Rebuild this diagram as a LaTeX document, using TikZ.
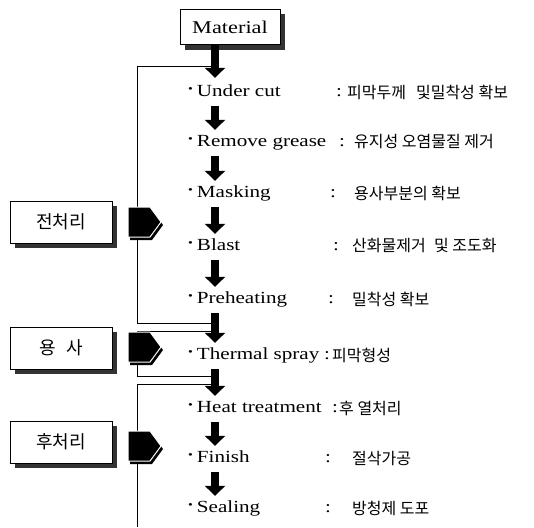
\documentclass[tikz,border=0pt]{standalone}
\usepackage{fontspec}
\setmainfont[FakeStretch=1.24]{Liberation Serif}
\newfontfamily\kr{Noto Sans CJK KR}
\usetikzlibrary{arrows.meta,shadows}
\begin{document}
\begin{tikzpicture}[x=1pt,y=-1pt,
  item/.style={anchor=west, inner sep=0pt, font=\fontsize{17}{20}\selectfont, text height=12pt, text depth=4pt},
  colon/.style={anchor=west, inner sep=0pt, font=\fontsize{17}{20}\selectfont, text height=12pt, text depth=4pt},
  desc/.style={anchor=west, inner sep=0pt, font=\kr\fontsize{16}{19}\selectfont},
  flow/.style={line width=8.5pt, -{Triangle[width=20pt,length=10pt]}},
  bracket/.style={line width=0.8pt},
  boxshadow/.style={drop shadow={shadow xshift=5pt, shadow yshift=-5pt, opacity=1, fill=black!80}},
  stage/.style={draw, line width=0.9pt, fill=white, minimum width=102pt, minimum height=42pt, font=\kr\fontsize{18}{21}\selectfont, boxshadow},
  stagemark/.pic={
    \fill[black] (-14,-12) -- (8,-12) -- (19,3) -- (8,18) -- (-14,18) -- cycle;
    \filldraw[fill=black, draw=white, line width=1pt] (-16,-15) -- (6,-15) -- (17,0) -- (6,15) -- (-16,15) -- cycle;
  }
]
\useasboundingbox (0,0) rectangle (534,527);

% Material
\node[draw, line width=0.9pt, fill=white, minimum width=100pt, minimum height=35pt, font=\fontsize{18}{21}\selectfont, boxshadow] (mat) at (230,27) {Material};

% stage boxes
\node[stage] (pre) at (61,222) {전처리};
\node[stage] (spr) at (61,348) {용\hspace{0.6em}사};
\node[stage] (post) at (61,442) {후처리};

% items
\newcommand\bul{\raisebox{4pt}{\fontsize{11}{11}\selectfont\textbullet}\hspace{4pt}}
\node[item] (i1) at (188,92) {\bul Under cut};
\node[item] (i2) at (188,142) {\bul Remove grease};
\node[item] (i3) at (188,193) {\bul Masking};
\node[item] (i4) at (188,246) {\bul Blast};
\node[item] (i5) at (188,299) {\bul Preheating};
\node[item] (i6) at (188,355) {\bul Thermal spray};
\node[item] (i7) at (188,408) {\bul Heat treatment};
\node[item] (i8) at (188,458) {\bul Finish};
\node[item] (i9) at (188,508) {\bul Sealing};

% colons
\node[colon] (c1) at (336,92) {:};
\node[colon] (c2) at (339,142) {:};
\node[colon] (c3) at (330,193) {:};
\node[colon] (c4) at (333,246) {:};
\node[colon] (c5) at (328,299) {:};
\node[colon] (c6) at (324,355) {:};
\node[colon] (c7) at (332,408) {:};
\node[colon] (c8) at (325,458) {:};
\node[colon] (c9) at (325,508) {:};

% descriptions
\node[desc] (d1) at (347,92) {피막두께\hspace{0.4em} 및밀착성 확보};
\node[desc] (d2) at (354,142) {유지성 오염물질 제거};
\node[desc] (d3) at (354,193) {용사부분의 확보};
\node[desc] (d4) at (352,246) {산화물제거\hspace{0.3em} 및 조도화};
\node[desc] (d5) at (352,299) {밀착성 확보};
\node[desc] (d6) at (332,355) {피막형성};
\node[desc] (d7) at (339,408) {후 열처리};
\node[desc] (d8) at (352,458) {절삭가공};
\node[desc] (d9) at (352,508) {방청제 도포};

% bracket coordinates
\coordinate (t0) at (137,66);
\coordinate (t0a) at (215,66);
\coordinate (t1) at (137,323);
\coordinate (t1a) at (215,323);
\coordinate (t2) at (137,331);
\coordinate (t2a) at (215,331);
\coordinate (t3) at (137,376);
\coordinate (t3a) at (215,376);
\coordinate (t4) at (137,384);
\coordinate (t4a) at (215,384);
\coordinate (t5) at (137,527);

\draw[bracket] (t0a) -- (t0) -- (t1) -- (t1a);
\draw[bracket] (t2a) -- (t2) -- (t3) -- (t3a);
\draw[bracket] (t4a) -- (t4) -- (t5);

% stage markers
\pic at (144,222) {stagemark};
\pic at (144,347) {stagemark};
\pic at (144,446) {stagemark};

% flow arrows
\draw[flow] (mat.south -| t0a) -- ([yshift=6pt]i1.north -| t0a);
\draw[flow] ([yshift=-6pt]i1.south -| t0a) -- ([yshift=4pt]i2.north -| t0a);
\draw[flow] ([yshift=-6pt]i2.south -| t0a) -- ([yshift=4pt]i3.north -| t0a);
\draw[flow] ([yshift=-6pt]i3.south -| t0a) -- ([yshift=4pt]i4.north -| t0a);
\draw[flow] ([yshift=-6pt]i4.south -| t0a) -- ([yshift=4pt]i5.north -| t0a);
\draw[flow] ([yshift=-6pt]i5.south -| t0a) -- ([yshift=4pt]i6.north -| t0a);
\draw[flow] ([yshift=-6pt]i6.south -| t0a) -- ([yshift=4pt]i7.north -| t0a);
\draw[flow] ([yshift=-6pt]i7.south -| t0a) -- ([yshift=4pt]i8.north -| t0a);
\draw[flow] ([yshift=-6pt]i8.south -| t0a) -- ([yshift=4pt]i9.north -| t0a);
\end{tikzpicture}
\end{document}
